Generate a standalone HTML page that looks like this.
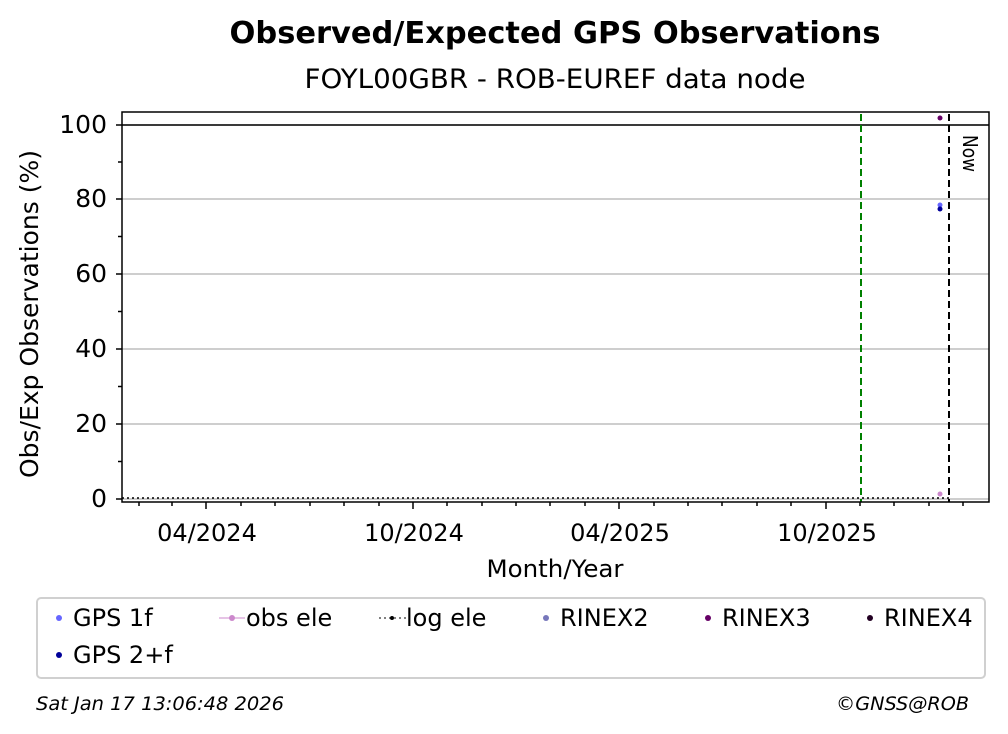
<!DOCTYPE html>
<html><head><meta charset="utf-8"><style>body{margin:0;background:#fff}svg{display:block;font-family:"DejaVu Sans","Liberation Sans",sans-serif}</style></head><body>
<svg width="1008" height="734" xmlns="http://www.w3.org/2000/svg">
<text x="555" y="43" font-size="30" font-weight="bold" text-anchor="middle" textLength="651" lengthAdjust="spacingAndGlyphs">Observed/Expected GPS Observations</text>
<text x="555" y="88" font-size="27" text-anchor="middle" textLength="501" lengthAdjust="spacingAndGlyphs">FOYL00GBR - ROB-EUREF data node</text>
<g stroke="#b0b0b0" stroke-width="1.2">
<line x1="122" x2="989" y1="499" y2="499"/><line x1="122" x2="989" y1="424" y2="424"/><line x1="122" x2="989" y1="349" y2="349"/><line x1="122" x2="989" y1="274" y2="274"/><line x1="122" x2="989" y1="199" y2="199"/><line x1="122" x2="989" y1="125" y2="125"/>
</g>
<line x1="122" x2="989" y1="125" y2="125" stroke="#000" stroke-width="1.5"/>
<line x1="122" x2="949" y1="498" y2="498" stroke="#000" stroke-width="1.5" stroke-dasharray="2,3"/>
<line x1="861" x2="861" y1="114" y2="502" stroke="#008000" stroke-width="2" stroke-dasharray="7,4"/>
<line x1="949" x2="949" y1="114" y2="502" stroke="#000" stroke-width="2" stroke-dasharray="7,4"/>
<text transform="translate(963,135) rotate(90)" font-size="20" textLength="37" lengthAdjust="spacingAndGlyphs">Now</text>
<circle cx="940" cy="118" r="2.5" fill="#660066"/>
<circle cx="940" cy="205" r="2.5" fill="#6666ff"/>
<circle cx="940" cy="209" r="2.5" fill="#000099"/>
<circle cx="940" cy="494" r="2.5" fill="#cc88cc"/>
<rect x="122" y="112" width="867" height="390" fill="none" stroke="#000" stroke-width="1.5"/>
<g stroke="#000" stroke-width="1.5">
<line x1="116" x2="122" y1="499" y2="499"/><line x1="116" x2="122" y1="424" y2="424"/><line x1="116" x2="122" y1="349" y2="349"/><line x1="116" x2="122" y1="274" y2="274"/><line x1="116" x2="122" y1="199" y2="199"/><line x1="116" x2="122" y1="125" y2="125"/>
<line x1="118" x2="122" y1="461.5" y2="461.5"/><line x1="118" x2="122" y1="386.5" y2="386.5"/><line x1="118" x2="122" y1="311.5" y2="311.5"/><line x1="118" x2="122" y1="236.5" y2="236.5"/><line x1="118" x2="122" y1="162" y2="162"/>
<line x1="206" x2="206" y1="502" y2="509"/><line x1="413" x2="413" y1="502" y2="509"/><line x1="619" x2="619" y1="502" y2="509"/><line x1="826" x2="826" y1="502" y2="509"/>
<path d="M139 502v4M172 502v4M241 502v4M275 502v4M310 502v4M344 502v4M379 502v4M447 502v4M482 502v4M516 502v4M550 502v4M585 502v4M654 502v4M688 502v4M722 502v4M757 502v4M791 502v4M860 502v4M894 502v4M929 502v4M963 502v4"/>
</g>
<g font-size="25" text-anchor="end">
<text x="107" y="507">0</text><text x="107" y="432">20</text><text x="107" y="357">40</text><text x="107" y="282">60</text><text x="107" y="207">80</text><text x="107" y="133">100</text>
</g>
<g font-size="24" text-anchor="middle">
<text x="207" y="541">04/2024</text><text x="414" y="541">10/2024</text><text x="620" y="541">04/2025</text><text x="827" y="541">10/2025</text>
<text x="555" y="577" font-size="24" textLength="137" lengthAdjust="spacingAndGlyphs">Month/Year</text>
</g>
<text transform="translate(38,314) rotate(-90)" font-size="25" text-anchor="middle" textLength="328" lengthAdjust="spacingAndGlyphs">Obs/Exp Observations (%)</text>
<rect x="37" y="598" width="948" height="80" rx="4" fill="#fff" stroke="#d0d0d0" stroke-width="2"/>
<g font-size="24">
<circle cx="59" cy="618" r="3" fill="#6666ff"/><text x="73" y="626">GPS 1f</text>
<line x1="219" x2="245" y1="618" y2="618" stroke="#cc88cc"/><circle cx="232" cy="618" r="3" fill="#cc88cc"/><text x="246" y="626">obs ele</text>
<line x1="379" x2="406" y1="618" y2="618" stroke="#000" stroke-dasharray="2,3"/><circle cx="392" cy="618" r="2" fill="#000"/><text x="406" y="626">log ele</text>
<circle cx="546" cy="618" r="3" fill="#7777bb"/><text x="560" y="626">RINEX2</text>
<circle cx="708" cy="618" r="3" fill="#660066"/><text x="722" y="626">RINEX3</text>
<circle cx="870" cy="618" r="3" fill="#220022"/><text x="884" y="626">RINEX4</text>
<circle cx="59" cy="655" r="3" fill="#000099"/><text x="73" y="663">GPS 2+f</text>
</g>
<text x="36" y="710" font-size="19" font-style="italic" textLength="248" lengthAdjust="spacingAndGlyphs">Sat Jan 17 13:06:48 2026</text>
<text x="969" y="710" font-size="19" font-style="italic" text-anchor="end" textLength="133" lengthAdjust="spacingAndGlyphs">©GNSS@ROB</text>
</svg>
</body></html>
